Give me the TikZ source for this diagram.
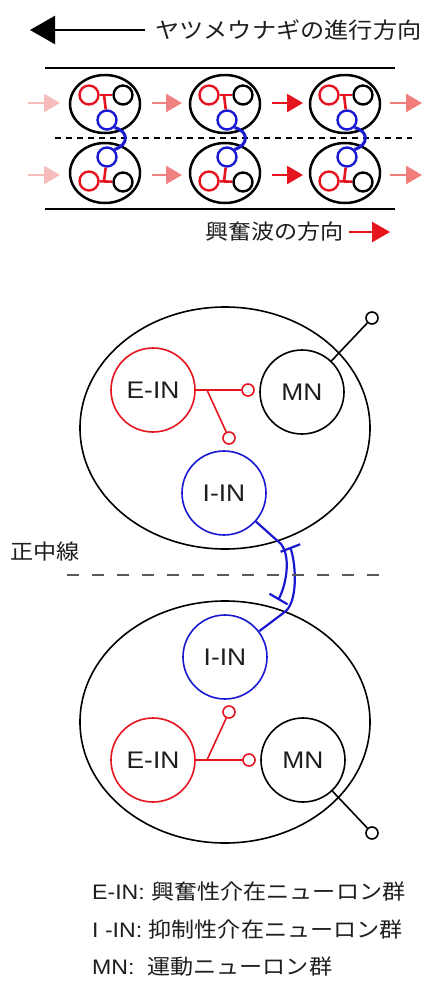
\documentclass[tikz,border=0pt]{standalone}
\usepackage{fontspec}
\setmainfont{Liberation Sans}[FakeStretch=1.1]
\newfontfamily\jp{Noto Sans CJK JP}[FakeStretch=1.1]
\usetikzlibrary{arrows.meta,shapes.geometric}
\definecolor{cred}{RGB}{230,20,30}
\definecolor{cblue}{RGB}{25,25,210}
\definecolor{pinka}{RGB}{245,188,188}
\definecolor{pinkb}{RGB}{240,130,130}
\definecolor{pinkc}{RGB}{240,125,120}
\definecolor{midgray}{RGB}{90,90,90}
\definecolor{txt}{RGB}{30,30,30}
\tikzset{
  cellbox/.style={ellipse, draw, line width=2.5pt, minimum width=70pt, minimum height=58pt, inner sep=0pt},
  smallcirc/.style={circle, draw, line width=2.4pt, minimum size=19pt, inner sep=0pt},
  smallred/.style={cred, line width=2.6pt},
  smallblue/.style={cblue, line width=3pt},
  parrow/.style={line width=2.5pt, -{Triangle[length=16pt,width=18pt]}},
  segbox/.style={ellipse, draw, line width=1.6pt, minimum width=290pt, minimum height=242pt, inner sep=0pt},
  neuron/.style={circle, draw, line width=1.6pt, minimum size=84pt, inner sep=0pt, text=txt, font=\fontsize{24}{24}\selectfont},
  syn/.style={circle, draw, line width=1.6pt, minimum size=12pt, inner sep=0pt, fill=white},
  exc/.style={cred, line width=1.6pt},
  inh/.style={cblue, line width=2.2pt, -{Bar[width=21pt,line width=2.2pt]}},
  jptext/.style={text=txt, font=\fontsize{21}{21}\selectfont\jp, inner sep=0pt},
  legend/.style={text=txt, font=\fontsize{21}{21}\selectfont, inner sep=0pt, anchor=west}
}
\begin{document}
\begin{tikzpicture}[x=1pt,y=-1pt]
\useasboundingbox[fill=white] (0,0) rectangle (426,983);

% ---------- top overview ----------
\coordinate (tA) at (145,30);
\coordinate (tB) at (30,30);
\draw[line width=2.5pt, -{Triangle[length=25pt,width=28pt]}] (tA) -- (tB);
\node[jptext, anchor=west, font=\fontsize{22}{22}\selectfont\jp] (title) at (155,30) {ヤツメウナギの進行方向};

\coordinate (bl1) at (45,68);  \coordinate (br1) at (395,68);
\coordinate (bl2) at (45,209); \coordinate (br2) at (395,209);
\draw[line width=2pt] (bl1) -- (br1);
\draw[line width=2pt] (bl2) -- (br2);
\coordinate (dl) at (55,138); \coordinate (dr) at (412,138);
\draw[line width=1.8pt, dash pattern=on 6pt off 5pt] (dl) -- (dr);

\foreach \c/\n in {105/1,225/2,345/3}{
  % upper cell
  \node[cellbox] (cu\n) at (\c,104) {};
  \node[smallcirc, draw=cred] (ru\n) at ({\c-16},95) {};
  \node[smallcirc] (ku\n) at ({\c+18},95) {};
  \node[smallcirc, draw=cblue] (bu\n) at ({\c+2},120) {};
  \coordinate (rbu\n) at ({\c-1},95);
  \draw[smallred] (ru\n) -- (ku\n);
  \draw[smallred] (rbu\n) -- (bu\n);
  % lower cell
  \node[cellbox, minimum height=60pt] (cl\n) at (\c,173) {};
  \node[smallcirc, draw=cblue] (bl\n) at ({\c+2},157) {};
  \node[smallcirc, draw=cred] (rl\n) at ({\c-16},181) {};
  \node[smallcirc] (kl\n) at ({\c+18},182) {};
  \coordinate (rbl\n) at ({\c-1},181);
  \draw[smallred] (rl\n) -- (kl\n);
  \draw[smallred] (rbl\n) -- (bl\n);
  % commissural axon
  \draw[smallblue] (bu\n.-45) .. controls ({\c+24},131) and ({\c+24},145) .. (bl\n.45);
}

\foreach \y/\r in {103/u,175/l}{
  \coordinate (pa1\r) at (28,\y);  \coordinate (pb1\r) at (60,\y);
  \coordinate (pa2\r) at (152,\y); \coordinate (pb2\r) at (182,\y);
  \coordinate (pa3\r) at (272,\y); \coordinate (pb3\r) at (303,\y);
  \coordinate (pa4\r) at (390,\y); \coordinate (pb4\r) at (422,\y);
  \draw[parrow, pinka] (pa1\r) -- (pb1\r);
  \draw[parrow, pinkb] (pa2\r) -- (pb2\r);
  \draw[parrow, cred] (pa3\r) -- (pb3\r);
  \draw[parrow, pinkc] (pa4\r) -- (pb4\r);
}

\node[jptext, anchor=west] (wave) at (205,232) {興奮波の方向};
\coordinate (wa) at (349,232); \coordinate (wb) at (390,232);
\draw[cred, line width=2.5pt, -{Triangle[length=18pt,width=20pt]}] (wa) -- (wb);

% ---------- detailed diagram ----------
\node[segbox] (segU) at (225,428) {};
\node[segbox] (segL) at (225,722) {};

\node[neuron, draw=cred] (eU) at (153,390) {E-IN};
\node[neuron] (mU) at (302,392) {MN};
\node[neuron, draw=cblue] (iU) at (224,493) {I-IN};
\node[syn, draw=cred] (s1U) at (248,390) {};
\node[syn, draw=cred] (s2U) at (229,438) {};
\node[syn] (oU) at (372,318) {};
\coordinate (brU) at (207,390);
\draw[exc] (eU) -- (s1U);
\draw[exc] (brU) -- (s2U);
\draw[line width=1.6pt] (mU) -- (oU);

\node[neuron, draw=cblue] (iL) at (225,657) {I-IN};
\node[neuron, draw=cred] (eL) at (153,760) {E-IN};
\node[neuron] (mL) at (303,760) {MN};
\node[syn, draw=cred] (s1L) at (249,760) {};
\node[syn, draw=cred] (s2L) at (229,712) {};
\node[syn] (oL) at (372,833) {};
\coordinate (brL) at (207,760);
\draw[exc] (eL) -- (s1L);
\draw[exc] (brL) -- (s2L);
\draw[line width=1.6pt] (mL) -- (oL);

% inhibitory commissural axons
\coordinate (aU) at (281,544);
\coordinate (aUe) at (278,600);
\draw[inh] (iU) -- (aU) .. controls (292,558) and (285,588) .. (aUe);
\coordinate (aL) at (286,611);
\coordinate (aLe) at (290,547);
\draw[inh] (iL) -- (aL) .. controls (299,598) and (295,560) .. (aLe);

% midline
\coordinate (mlA) at (67,575); \coordinate (mlB) at (390,575);
\draw[midgray, line width=2.5pt, dash pattern=on 12pt off 13pt] (mlA) -- (mlB);
\node[jptext, anchor=west] (midlabel) at (10,552) {正中線};

% ---------- legend ----------
\node[legend] (lg1) at (92,892) {E-IN: {\jp 興奮性介在ニューロン群}};
\node[legend] (lg2) at (92,930) {I -IN: {\jp 抑制性介在ニューロン群}};
\node[legend] (lg3) at (92,967) {MN:\ \ {\jp 運動ニューロン群}};
\end{tikzpicture}
\end{document}
